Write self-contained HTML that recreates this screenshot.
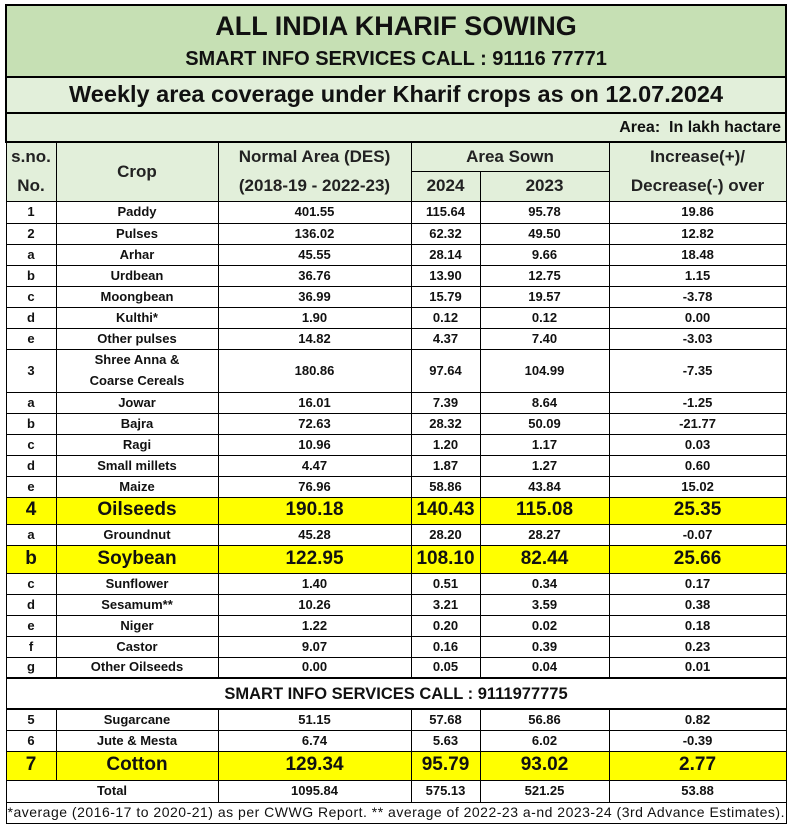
<!DOCTYPE html>
<html><head><meta charset="utf-8"><style>
body{margin:0;background:#fff;width:789px;height:827px;overflow:hidden;font-family:"Liberation Sans",Arial,sans-serif;}
table{position:absolute;left:5px;top:4px;border-collapse:collapse;table-layout:fixed;width:780px;}
td{border:1px solid #000;padding:0;text-align:center;font-weight:bold;font-size:13px;color:#111;overflow:hidden;white-space:nowrap;line-height:1.1}
.g1{background:#c6e0b4}
.g2{background:#e2efda}
.y{background:#ffff00;font-size:19px}
.h{font-size:17px;color:#222}
</style></head><body>
<table>
<colgroup><col style="width:50px"><col style="width:162px"><col style="width:193px"><col style="width:69px"><col style="width:129px"><col style="width:177px"></colgroup>
<tr style="height:72px"><td colspan="6" class="g1" style="border:2px solid #000"><div style="font-size:27px;margin-bottom:7px">ALL INDIA KHARIF SOWING</div><div style="font-size:20px">SMART INFO SERVICES CALL : 91116 77771</div></td></tr>
<tr style="height:36px"><td colspan="6" class="g2" style="font-size:23.5px;border:2px solid #000">Weekly area coverage under Kharif crops as on 12.07.2024</td></tr>
<tr style="height:29px"><td colspan="6" class="g2" style="text-align:right;font-size:16px;padding-right:4px;border:2px solid #000">Area:&nbsp; In lakh hactare</td></tr>
<tr style="height:29px"><td rowspan="2" class="g2 h" style="line-height:1.7">s.no.<br>No.</td><td rowspan="2" class="g2 h">Crop</td><td rowspan="2" class="g2 h" style="line-height:1.7">Normal Area (DES)<br>(2018-19 - 2022-23)</td><td colspan="2" class="g2 h">Area Sown</td><td rowspan="2" class="g2 h" style="line-height:1.7">Increase(+)/<br>Decrease(-) over</td></tr>
<tr style="height:29px"><td class="g2 h">2024</td><td class="g2 h">2023</td></tr>
<tr style="height:22px"><td>1</td><td>Paddy</td><td>401.55</td><td>115.64</td><td>95.78</td><td>19.86</td></tr>
<tr style="height:21px"><td>2</td><td>Pulses</td><td>136.02</td><td>62.32</td><td>49.50</td><td>12.82</td></tr>
<tr style="height:21px"><td>a</td><td>Arhar</td><td>45.55</td><td>28.14</td><td>9.66</td><td>18.48</td></tr>
<tr style="height:21px"><td>b</td><td>Urdbean</td><td>36.76</td><td>13.90</td><td>12.75</td><td>1.15</td></tr>
<tr style="height:21px"><td>c</td><td>Moongbean</td><td>36.99</td><td>15.79</td><td>19.57</td><td>-3.78</td></tr>
<tr style="height:21px"><td>d</td><td>Kulthi*</td><td>1.90</td><td>0.12</td><td>0.12</td><td>0.00</td></tr>
<tr style="height:21px"><td>e</td><td>Other pulses</td><td>14.82</td><td>4.37</td><td>7.40</td><td>-3.03</td></tr>
<tr style="height:43px"><td>3</td><td style="line-height:1.6">Shree Anna &amp;<br>Coarse Cereals</td><td>180.86</td><td>97.64</td><td>104.99</td><td>-7.35</td></tr>
<tr style="height:21px"><td>a</td><td>Jowar</td><td>16.01</td><td>7.39</td><td>8.64</td><td>-1.25</td></tr>
<tr style="height:21px"><td>b</td><td>Bajra</td><td>72.63</td><td>28.32</td><td>50.09</td><td>-21.77</td></tr>
<tr style="height:21px"><td>c</td><td>Ragi</td><td>10.96</td><td>1.20</td><td>1.17</td><td>0.03</td></tr>
<tr style="height:21px"><td>d</td><td>Small millets</td><td>4.47</td><td>1.87</td><td>1.27</td><td>0.60</td></tr>
<tr style="height:21px"><td>e</td><td>Maize</td><td>76.96</td><td>58.86</td><td>43.84</td><td>15.02</td></tr>
<tr style="height:27px"><td class="y">4</td><td class="y">Oilseeds</td><td class="y">190.18</td><td class="y">140.43</td><td class="y">115.08</td><td class="y">25.35</td></tr>
<tr style="height:21px"><td>a</td><td>Groundnut</td><td>45.28</td><td>28.20</td><td>28.27</td><td>-0.07</td></tr>
<tr style="height:28px"><td class="y">b</td><td class="y">Soybean</td><td class="y">122.95</td><td class="y">108.10</td><td class="y">82.44</td><td class="y">25.66</td></tr>
<tr style="height:21px"><td>c</td><td>Sunflower</td><td>1.40</td><td>0.51</td><td>0.34</td><td>0.17</td></tr>
<tr style="height:21px"><td>d</td><td>Sesamum**</td><td>10.26</td><td>3.21</td><td>3.59</td><td>0.38</td></tr>
<tr style="height:21px"><td>e</td><td>Niger</td><td>1.22</td><td>0.20</td><td>0.02</td><td>0.18</td></tr>
<tr style="height:21px"><td>f</td><td>Castor</td><td>9.07</td><td>0.16</td><td>0.39</td><td>0.23</td></tr>
<tr style="height:21px"><td>g</td><td>Other Oilseeds</td><td>0.00</td><td>0.05</td><td>0.04</td><td>0.01</td></tr>
<tr style="height:31px"><td colspan="6" style="font-size:16.5px;border-top:2px solid #000;border-bottom:2px solid #000">SMART INFO SERVICES CALL : 9111977775</td></tr>
<tr style="height:21px"><td>5</td><td>Sugarcane</td><td>51.15</td><td>57.68</td><td>56.86</td><td>0.82</td></tr>
<tr style="height:21px"><td>6</td><td>Jute &amp; Mesta</td><td>6.74</td><td>5.63</td><td>6.02</td><td>-0.39</td></tr>
<tr style="height:29px"><td class="y">7</td><td class="y">Cotton</td><td class="y">129.34</td><td class="y">95.79</td><td class="y">93.02</td><td class="y">2.77</td></tr>
<tr style="height:22px"><td colspan="2">Total</td><td>1095.84</td><td>575.13</td><td>521.25</td><td>53.88</td></tr>
<tr style="height:21px"><td colspan="6" style="font-size:14px;font-weight:normal;letter-spacing:0.5px;text-align:left;padding-left:1px">*average (2016-17 to 2020-21) as per CWWG Report. ** average of 2022-23 a-nd 2023-24 (3rd Advance Estimates).</td></tr>
</table>
</body></html>
